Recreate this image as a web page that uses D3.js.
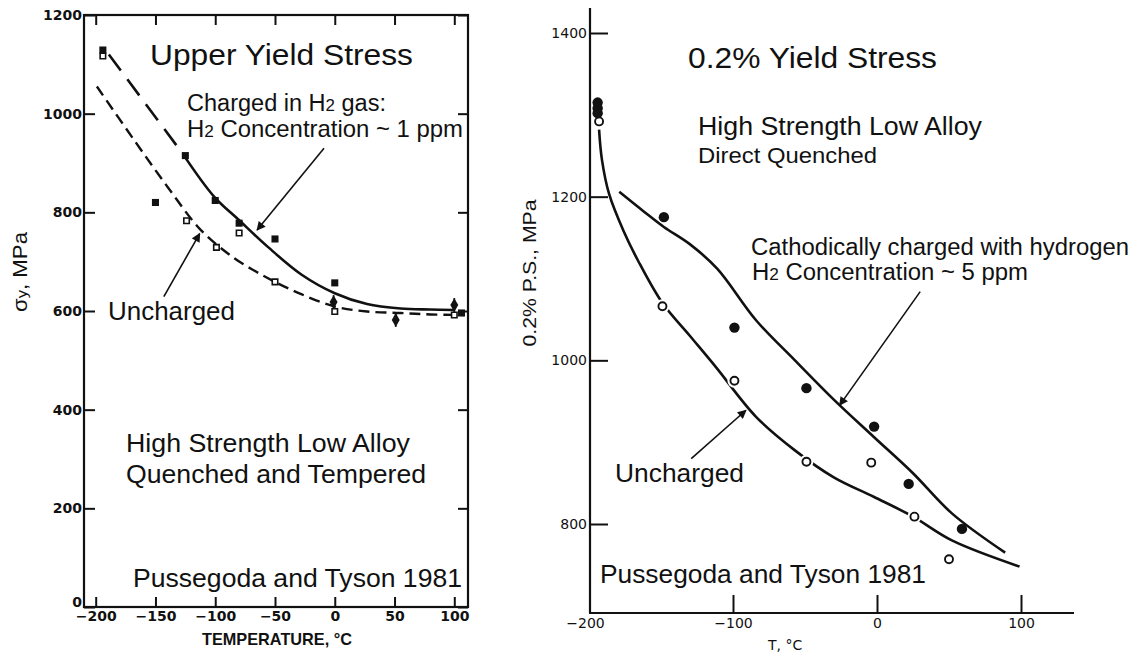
<!DOCTYPE html>
<html>
<head>
<meta charset="utf-8">
<script src="https://cdn.jsdelivr.net/npm/d3@7"></script>
<style>
  body { margin: 0; background: #fff; }
  svg { display: block; }
  text { fill: #111; }
</style>
</head>
<body>
<svg id="fig" width="1136" height="655"></svg>
<script>
// ---------- Upper yield stress panel (quenched & tempered HSLA) ----------
const uysTicksX = [-200, -150, -100, -50, 0, 50, 100];
const uysTicksY = [0, 200, 400, 600, 800, 1000, 1200];
// hydrogen-charged specimens (filled squares)
const uysChargedPts = [[-194, 1129], [-150, 820], [-125, 915], [-100, 824], [-80, 778], [-50, 746], [0, 657], [106, 596]];
// uncharged specimens (open squares)
const uysUnchargedPts = [[-194, 1117], [-124, 783], [-99, 729], [-80, 758], [-50, 659], [0, 599], [100, 592]];
// points with scatter bars (filled diamonds)
const uysBarPts = [[-1, 618], [51, 582], [100, 612]];
// fitted curves
const uysChargedExtrap = [[-189, 1120], [-127, 918]];
const uysChargedCurve = [[-127, 918], [-101, 832], [-80, 784], [-56, 730], [-28, 674], [0, 636], [27, 614], [55, 605], [80, 603], [100, 602]];
const uysUnchargedCurve = [[-199, 1055], [-168, 947], [-140, 852], [-112, 764], [-84, 707], [-66, 680], [-50, 659], [-28, 634], [0, 609], [27, 599], [55, 596], [80, 593], [108, 592]];
// annotation arrows [from, to]
const uysChargedArrow = [[-9, 930], [-65, 764]];
const uysUnchargedArrow = [[-143, 629], [-113, 757]];

// ---------- 0.2% proof stress panel (direct quenched HSLA) ----------
const psTicksX = [-200, -100, 0, 100];
const psTicksY = [800, 1000, 1200, 1400];
const psChargedPts = [[-194, 1315], [-194, 1308], [-194, 1302], [-148, 1175], [-99, 1040], [-49, 966], [-2, 919], [22, 849], [59, 794]];
const psUnchargedPts = [[-193, 1292], [-149, 1066], [-99, 975], [-49, 876], [-4, 875], [26, 809], [50, 757]];
const psChargedCurve = [[-179, 1206], [-162, 1182], [-148, 1163], [-130, 1142], [-111, 1112], [-84, 1049], [-57, 1000], [-30, 952], [-2, 906], [25, 862], [52, 813], [89, 765]];
const psUnchargedCurve = [[-193, 1282], [-191, 1245], [-186, 1203], [-176, 1158], [-166, 1122], [-149, 1070], [-130, 1030], [-112, 992], [-84, 931], [-57, 890], [-30, 857], [-2, 833], [25, 809], [52, 780], [99, 748]];
const psChargedArrow = [[30, 1084], [-26, 945]];
const psUnchargedArrow = [[-129, 880], [-91, 939]];

const svg = d3.select("#fig");
const SANS = "'Liberation Sans', Arial, Helvetica, sans-serif";
const intFmt = d3.format("d");

svg.append("defs").append("marker")
  .attr("id", "head").attr("viewBox", "0 0 10 10")
  .attr("refX", 9).attr("refY", 5)
  .attr("markerWidth", 11).attr("markerHeight", 9)
  .attr("markerUnits", "userSpaceOnUse")
  .attr("orient", "auto")
  .append("path").attr("d", "M0,0 L10,5 L0,10 Z").attr("fill", "#111");

function label(g, x, y, str, size, len) {
  const t = g.append("text").attr("x", x).attr("y", y)
    .attr("font-family", SANS).attr("font-size", size).text(str);
  if (len) t.attr("textLength", len).attr("lengthAdjust", "spacingAndGlyphs");
  return t;
}
// text with a small "2" after H (H2)
function h2Label(g, x, y, before, after, size, len) {
  const t = g.append("text").attr("x", x).attr("y", y)
    .attr("font-family", SANS).attr("font-size", size);
  if (before) t.append("tspan").text(before);
  t.append("tspan").text("H");
  t.append("tspan").attr("font-size", size * 0.72).text("2");
  t.append("tspan").text(after);
  if (len) t.attr("textLength", len).attr("lengthAdjust", "spacingAndGlyphs");
  return t;
}

// ================= Left panel =================
const L = svg.append("g");
const xL = d3.scaleLinear().domain([-200, 100]).range([95.7, 454.3]);
const yL = d3.scaleLinear().domain([0, 1200]).range([607, 15]);
const frameL = { x0: 84, x1: 468, y0: 15, y1: 607 };

L.append("rect")
  .attr("x", frameL.x0).attr("y", frameL.y0)
  .attr("width", frameL.x1 - frameL.x0).attr("height", frameL.y1 - frameL.y0)
  .attr("fill", "none").attr("stroke", "#111").attr("stroke-width", 2.2);

function styleAxis(g, family, weight, size) {
  g.select(".domain").remove();
  g.selectAll(".tick line").attr("stroke", "#111").attr("stroke-width", 2);
  g.selectAll(".tick text").attr("font-family", family).attr("font-weight", weight)
    .attr("font-size", size).attr("fill", "#111");
}

const lBottom = L.append("g").attr("transform", `translate(0,${frameL.y1})`)
  .call(d3.axisBottom(xL).tickValues(uysTicksX).tickFormat(intFmt).tickSize(-10).tickPadding(4));
styleAxis(lBottom, "'DejaVu Sans', sans-serif", "bold", 14);
const lTop = L.append("g").attr("transform", `translate(0,${frameL.y0})`)
  .call(d3.axisTop(xL).tickValues(uysTicksX).tickSize(-10).tickFormat(""));
styleAxis(lTop, "sans-serif", "normal", 1);
const lLeft = L.append("g").attr("transform", `translate(${frameL.x0},0)`)
  .call(d3.axisLeft(yL).tickValues(uysTicksY).tickFormat(intFmt).tickSize(-11).tickPadding(2));
styleAxis(lLeft, "'DejaVu Sans', sans-serif", "bold", 14);
// the zero label sits just above the corner, clear of the x labels
lLeft.selectAll(".tick").filter(d => d === 0).select("text").attr("y", -5);
const lRight = L.append("g").attr("transform", `translate(${frameL.x1},0)`)
  .call(d3.axisRight(yL).tickValues(uysTicksY).tickSize(-10).tickFormat(""));
styleAxis(lRight, "sans-serif", "normal", 1);

const lineL = d3.line().x(d => xL(d[0])).y(d => yL(d[1])).curve(d3.curveCatmullRom.alpha(0.5));

L.append("path").datum(uysUnchargedCurve).attr("d", lineL)
  .attr("fill", "none").attr("stroke", "#111").attr("stroke-width", 2.4)
  .attr("stroke-dasharray", "11,6");
L.append("path").datum(uysChargedExtrap).attr("d", lineL)
  .attr("fill", "none").attr("stroke", "#111").attr("stroke-width", 2.6)
  .attr("stroke-dasharray", "20,11");
L.append("path").datum(uysChargedCurve).attr("d", lineL)
  .attr("fill", "none").attr("stroke", "#111").attr("stroke-width", 2.6);

L.selectAll("path.usq").data(uysUnchargedPts).join("path").attr("class", "usq")
  .attr("transform", d => `translate(${xL(d[0])},${yL(d[1])})`)
  .attr("d", d3.symbol(d3.symbolSquare, 30))
  .attr("fill", "#fff").attr("stroke", "#111").attr("stroke-width", 1.6);
L.selectAll("path.csq").data(uysChargedPts).join("path").attr("class", "csq")
  .attr("transform", d => `translate(${xL(d[0])},${yL(d[1])})`)
  .attr("d", d3.symbol(d3.symbolSquare, 50))
  .attr("fill", "#111");
const bars = L.selectAll("g.bar").data(uysBarPts).join("g").attr("class", "bar")
  .attr("transform", d => `translate(${xL(d[0])},${yL(d[1])})`);
bars.append("line").attr("y1", -7).attr("y2", 7).attr("stroke", "#111").attr("stroke-width", 1.8);
bars.append("path").attr("d", d3.symbol(d3.symbolDiamond, 55)).attr("fill", "#111");

function arrow(g, xs, ys, pts) {
  g.append("line")
    .attr("x1", xs(pts[0][0])).attr("y1", ys(pts[0][1]))
    .attr("x2", xs(pts[1][0])).attr("y2", ys(pts[1][1]))
    .attr("stroke", "#111").attr("stroke-width", 1.6)
    .attr("marker-end", "url(#head)");
}
arrow(L, xL, yL, uysChargedArrow);
arrow(L, xL, yL, uysUnchargedArrow);

label(L, 150, 65, "Upper Yield Stress", 29, 263);
h2Label(L, 187, 111, "Charged in ", " gas:", 23.5, 199);
h2Label(L, 187, 137, "", " Concentration ~ 1 ppm", 24, 276);
label(L, 108, 320, "Uncharged", 26, 127);
label(L, 126, 452, "High Strength Low Alloy", 26.5, 284);
label(L, 126, 483, "Quenched and Tempered", 26.5, 300);
label(L, 133, 587, "Pussegoda and Tyson 1981", 26.5, 329);

label(L, 202, 645, "TEMPERATURE, °C", 17, 150).attr("font-weight", "bold")
  .attr("font-family", "'Liberation Sans', Arial, sans-serif");

const yLab = L.append("text").attr("transform", "translate(27,272) rotate(-90)")
  .attr("text-anchor", "middle").attr("font-family", SANS).attr("font-size", 20)
  .attr("textLength", 80).attr("lengthAdjust", "spacingAndGlyphs");
yLab.append("tspan").text("σ");
yLab.append("tspan").attr("font-size", 15).text("y");
yLab.append("tspan").text(", MPa");

// ================= Right panel =================
const R = svg.append("g");
const xR = d3.scaleLinear().domain([-200, 100]).range([589, 1021]);
const yR = d3.scaleLinear().domain([800, 1400]).range([524, 33]);
const axR = { x: 590, yTop: 8, yBot: 613, xEnd: 1074 };

R.append("line").attr("x1", axR.x).attr("x2", axR.x).attr("y1", axR.yTop).attr("y2", axR.yBot)
  .attr("stroke", "#111").attr("stroke-width", 2.2);
R.append("line").attr("x1", axR.x - 1).attr("x2", axR.xEnd).attr("y1", axR.yBot).attr("y2", axR.yBot)
  .attr("stroke", "#111").attr("stroke-width", 2.2);

const rLeft = R.append("g").attr("transform", `translate(${axR.x},0)`)
  .call(d3.axisLeft(yR).tickValues(psTicksY).tickFormat(intFmt).tickSize(-18).tickPadding(3));
styleAxis(rLeft, "'DejaVu Sans', sans-serif", "normal", 14);
const rBottom = R.append("g").attr("transform", `translate(0,${axR.yBot})`)
  .call(d3.axisBottom(xR).tickValues(psTicksX).tickFormat(intFmt).tickSize(-18).tickPadding(5));
styleAxis(rBottom, "'DejaVu Sans', sans-serif", "normal", 14);
rBottom.selectAll(".tick").filter(d => d === -200).select("line").remove();
rBottom.selectAll(".tick").filter(d => d === -200).select("text").attr("dx", -4);

const lineR = d3.line().x(d => xR(d[0])).y(d => yR(d[1])).curve(d3.curveCatmullRom.alpha(0.5));
R.append("path").datum(psUnchargedCurve).attr("d", lineR)
  .attr("fill", "none").attr("stroke", "#111").attr("stroke-width", 2.6);
R.append("path").datum(psChargedCurve).attr("d", lineR)
  .attr("fill", "none").attr("stroke", "#111").attr("stroke-width", 2.6);

// open circles break the line they sit on
R.selectAll("circle.halo").data(psUnchargedPts).join("circle").attr("class", "halo")
  .attr("cx", d => xR(d[0])).attr("cy", d => yR(d[1])).attr("r", 7).attr("fill", "#fff");
R.selectAll("circle.open").data(psUnchargedPts).join("circle").attr("class", "open")
  .attr("cx", d => xR(d[0])).attr("cy", d => yR(d[1])).attr("r", 4)
  .attr("fill", "#fff").attr("stroke", "#111").attr("stroke-width", 1.9);
R.selectAll("circle.fill").data(psChargedPts).join("circle").attr("class", "fill")
  .attr("cx", d => xR(d[0])).attr("cy", d => yR(d[1])).attr("r", 5.2)
  .attr("fill", "#111");

arrow(R, xR, yR, psChargedArrow);
arrow(R, xR, yR, psUnchargedArrow);

label(R, 688, 68, "0.2% Yield Stress", 29, 249);
label(R, 698, 135, "High Strength Low Alloy", 25, 284);
label(R, 698, 163, "Direct Quenched", 22, 179);
label(R, 751, 255, "Cathodically charged with hydrogen", 23, 378);
h2Label(R, 752, 280, "", " Concentration ~ 5 ppm", 23, 276);
label(R, 615, 482, "Uncharged", 26, 129);
label(R, 600, 583, "Pussegoda and Tyson 1981", 25, 326);

label(R, 768, 650, "T, °C", 14, null).attr("font-family", "'DejaVu Sans', sans-serif");

R.append("text").attr("transform", "translate(536,273) rotate(-90)")
  .attr("text-anchor", "middle").attr("font-family", SANS).attr("font-size", 18)
  .attr("textLength", 147).attr("lengthAdjust", "spacingAndGlyphs")
  .text("0.2% P.S., MPa");
</script>
</body>
</html>
